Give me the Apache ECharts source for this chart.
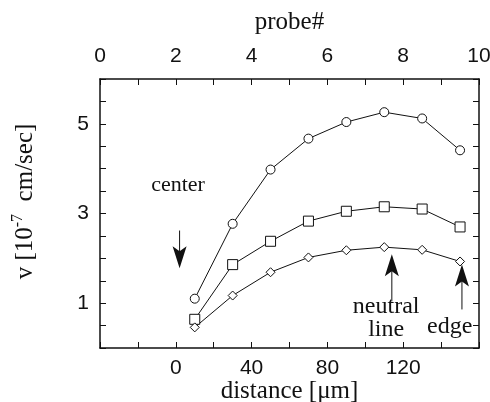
<!DOCTYPE html>
<html>
<head>
<meta charset="utf-8">
<script src="https://cdn.jsdelivr.net/npm/echarts@6/dist/echarts.min.js"></script>
<style>
  html, body { margin: 0; padding: 0; background: #fff; }
  #chart { width: 490px; height: 402px; }
</style>
</head>
<body>
<div id="chart"></div>
<script>
// distance along the probe array [um]
const distance = [10, 30, 50, 70, 90, 110, 130, 150];
const circles = [1.10, 2.77, 3.98, 4.67, 5.04, 5.26, 5.12, 4.41];
const squares = [0.64, 1.86, 2.38, 2.83, 3.05, 3.15, 3.10, 2.70];
const diamonds = [0.46, 1.17, 1.69, 2.02, 2.18, 2.25, 2.19, 1.93];
const xLabels = [0, 40, 80, 120];
const probeLabels = [0, 2, 4, 6, 8, 10];
const yLabels = [1, 3, 5];

// annotation arrows: x, tail y, tip y, label position (data units)
const arrows = [
  { x: 2, from: 2.62, to: 1.78, text: 'center', tx: 1.2, ty: 3.62, size: 22 },
  { x: 114, from: 1.04, to: 2.09, text: 'neutral\nline', tx: 111, ty: 0.66, size: 24 },
  { x: 151, from: 0.86, to: 1.86, text: 'edge', tx: 144.5, ty: 0.48, size: 24 }
];

const serif = '"Liberation Serif", "DejaVu Serif", serif';
const sans = '"Liberation Sans", Arial, sans-serif';
const black = '#111';

let chart = echarts.init(document.getElementById('chart'));

function line(name, data, symbol, size) {
  return {
    name: name,
    type: 'line',
    xAxisIndex: 0,
    yAxisIndex: 0,
    data: distance.map((d, i) => [d, data[i]]),
    symbol: symbol,
    symbolSize: size,
    showAllSymbol: true,
    lineStyle: { color: black, width: 1 },
    itemStyle: { color: '#fff', borderColor: black, borderWidth: 1 },
    z: 3
  };
}

const tickStyle = { inside: true, length: 6, lineStyle: { color: black, width: 1 } };
const lineStyle = { lineStyle: { color: black, width: 1.5 } };

let option = {
  animation: false,
  backgroundColor: '#fff',
  grid: { left: 100, right: 11, top: 79, bottom: 54, outerBoundsMode: 'none', containLabel: false },
  xAxis: [
    {
      type: 'value', position: 'bottom', min: -40, max: 160, interval: 20,
      axisLine: Object.assign({ onZero: false }, lineStyle),
      axisTick: tickStyle,
      splitLine: { show: false },
      axisLabel: {
        color: black, fontFamily: sans, fontSize: 21, margin: 10,
        formatter: v => xLabels.indexOf(v) >= 0 ? String(v) : ''
      },
      name: 'distance [\u03bcm]', nameLocation: 'middle', nameGap: 31, nameMoveOverlap: false,
      nameTextStyle: { color: black, fontFamily: serif, fontSize: 25 }
    },
    {
      type: 'value', position: 'top', min: 0, max: 10, interval: 1,
      axisLine: Object.assign({ onZero: false }, lineStyle),
      axisTick: tickStyle,
      splitLine: { show: false },
      axisLabel: {
        color: black, fontFamily: sans, fontSize: 21, margin: 12,
        formatter: v => probeLabels.indexOf(v) >= 0 ? String(v) : ''
      },
      name: 'probe#', nameLocation: 'middle', nameGap: 44, nameMoveOverlap: false,
      nameTextStyle: { color: black, fontFamily: serif, fontSize: 25 }
    }
  ],
  yAxis: [
    {
      type: 'value', position: 'left', min: 0, max: 6, interval: 0.5,
      axisLine: Object.assign({ onZero: false }, lineStyle),
      axisTick: tickStyle,
      splitLine: { show: false },
      axisLabel: {
        color: black, fontFamily: sans, fontSize: 21, margin: 11,
        formatter: v => yLabels.indexOf(v) >= 0 ? String(v) : ''
      },
      name: 'v [10{sup|-7}  cm/sec]', nameLocation: 'middle', nameGap: 60, nameMoveOverlap: false,
      nameTextStyle: {
        color: black, fontFamily: serif, fontSize: 25, padding: [0, 0, 0, 24],
        rich: { sup: { fontFamily: serif, fontSize: 16, verticalAlign: 'bottom', padding: [0, 0, 14, 0] } }
      }
    },
    {
      type: 'value', position: 'right', min: 0, max: 6, interval: 0.5,
      axisLine: Object.assign({ onZero: false }, lineStyle),
      axisTick: tickStyle,
      splitLine: { show: false },
      axisLabel: { show: false }
    }
  ],
  series: [
    line('circle', circles, 'circle', 9),
    line('square', squares, 'rect', 10),
    line('diamond', diamonds, 'diamond', 9)
  ]
};
chart.setOption(option);

// annotations placed through the chart's own scales
function drawArrows() {
  let els = [];
  arrows.forEach(a => {
    const tail = chart.convertToPixel({ xAxisIndex: 0, yAxisIndex: 0 }, [a.x, a.from]);
    const tip = chart.convertToPixel({ xAxisIndex: 0, yAxisIndex: 0 }, [a.x, a.to]);
    const dir = tip[1] > tail[1] ? 1 : -1;
    const headLen = 22, half = 7;
    els.push({
      type: 'line', silent: true,
      shape: { x1: tail[0], y1: tail[1], x2: tip[0], y2: tip[1] - dir * (headLen - 6) },
      style: { stroke: black, lineWidth: 1 }
    });
    els.push({
      type: 'polygon', silent: true,
      shape: { points: [
        [tip[0], tip[1]],
        [tip[0] - half, tip[1] - dir * headLen],
        [tip[0], tip[1] - dir * (headLen - 5)],
        [tip[0] + half, tip[1] - dir * headLen]
      ] },
      style: { fill: black }
    });
    const t = chart.convertToPixel({ xAxisIndex: 0, yAxisIndex: 0 }, [a.tx, a.ty]);
    els.push({
      type: 'text', silent: true, x: t[0], y: t[1],
      style: {
        text: a.text, fill: black, font: a.size + 'px ' + serif,
        align: 'center', verticalAlign: 'middle', lineHeight: 23
      }
    });
  });
  chart.setOption({ graphic: els });
}
drawArrows();

window.onresize = () => {
  chart.resize();
  drawArrows();
};
</script>
</body>
</html>
